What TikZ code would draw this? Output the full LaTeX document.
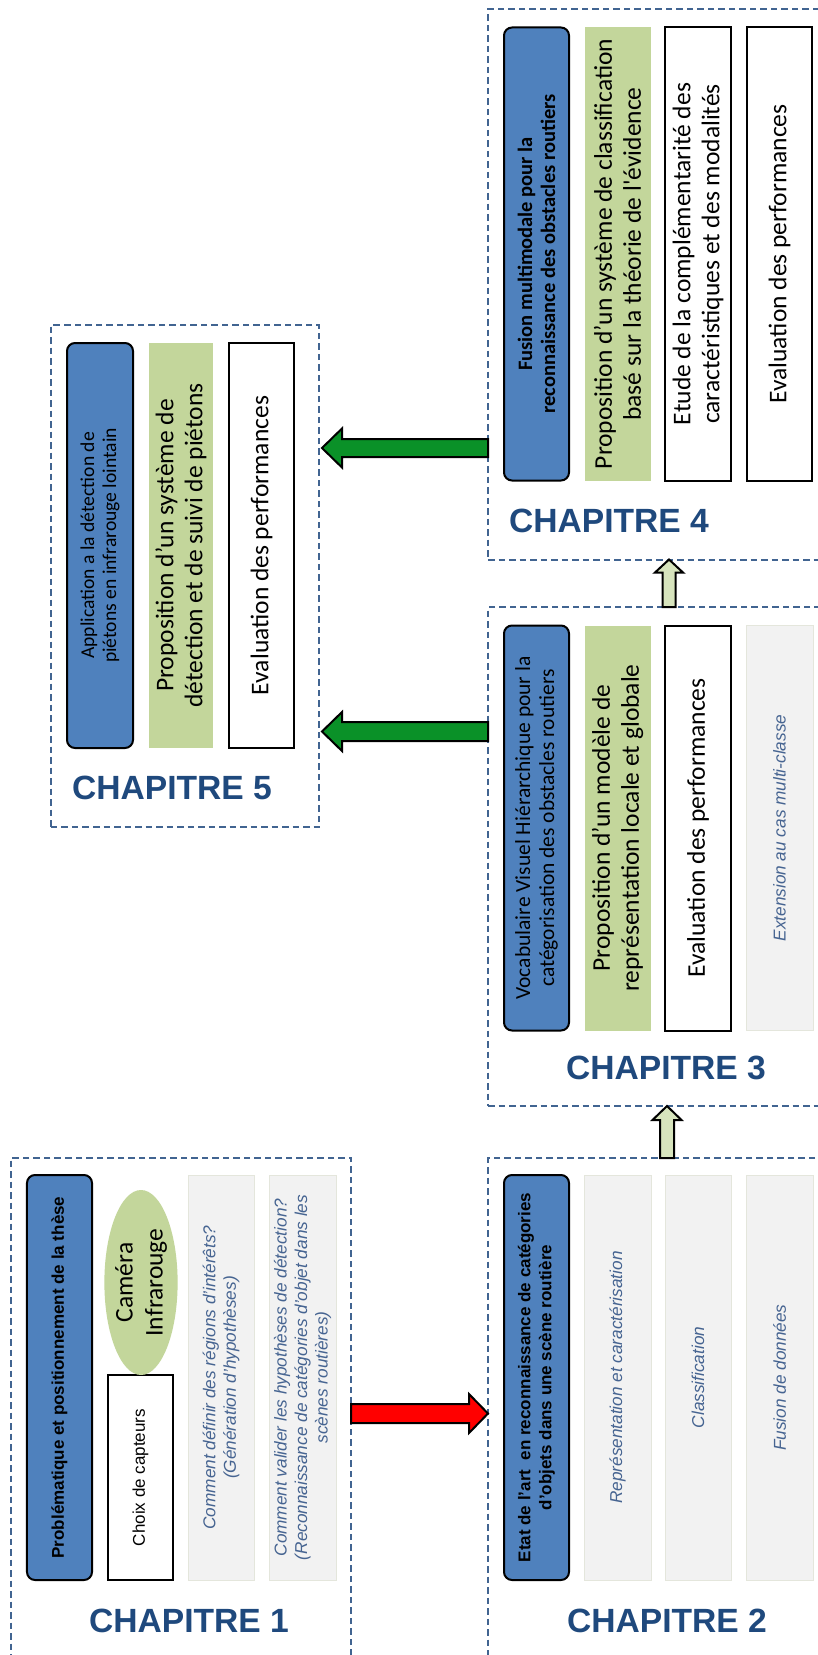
\documentclass[tikz,border=0pt]{standalone}
\usepackage{fontspec}
\setmainfont{Liberation Sans}
\newfontfamily\calib{Carlito}
\usetikzlibrary{calc,shapes.geometric}
\definecolor{bluebox}{RGB}{79,129,189}
\definecolor{greenbox}{RGB}{195,214,155}
\definecolor{graybox}{RGB}{242,242,242}
\definecolor{grayedge}{RGB}{228,230,220}
\definecolor{graytext}{RGB}{70,100,145}
\definecolor{chapblue}{RGB}{31,73,125}
\definecolor{framecol}{RGB}{65,100,145}
\definecolor{arrred}{RGB}{255,0,0}
\definecolor{arrgreen}{RGB}{10,145,40}
\definecolor{arrlight}{RGB}{215,228,189}
\newcommand\fs[2]{\fontsize{#1bp}{#2bp}\selectfont}
% block arrow: style, start, tip, half shaft, half head, head length
\newcommand\blockarr[6]{%
  \coordinate (HB) at ($(#3)!#6!(#2)$);
  \draw[#1] ($(#2)!#4!90:(#3)$) -- ($(HB)!#4!90:(#3)$) -- ($(HB)!#5!90:(#3)$) -- (#3)
    -- ($(HB)!#5!-90:(#3)$) -- ($(HB)!#4!-90:(#3)$) -- ($(#2)!#4!-90:(#3)$) -- cycle;}
\tikzset{
  frame/.style={draw=framecol, line width=2bp, dash pattern=on 6.5bp off 4bp, inner sep=0, outer sep=0},
  bx/.style={rotate=90, inner sep=0, outer sep=0, align=center},
  bluebx/.style={bx, draw=black, line width=2bp, fill=bluebox, rounded corners=8bp},
  greenbx/.style={bx, fill=greenbox, font=\calib\fs{25.5}{29}},
  whitebx/.style={bx, draw=black, line width=2bp, fill=white, font=\calib\fs{25.5}{29}},
  graybx/.style={bx, draw=grayedge, line width=1bp, fill=graybox, text=graytext, font=\itshape\fs{17.2}{20.5}},
  chap/.style={text=chapblue, font=\bfseries\fs{33.6}{40}, inner sep=0},
  redarr/.style={draw=black, line width=2bp, fill=arrred},
  greenarr/.style={draw=black, line width=2bp, fill=arrgreen},
  lightarr/.style={draw=black, line width=2bp, fill=arrlight},
}
\begin{document}
\begin{tikzpicture}[x=1bp,y=-1bp]
\fill[white] (0,0) rectangle (818,1655);
\useasboundingbox (0,0) rectangle (818,1655);
\begin{scope}
\clip (0,0) rectangle (818,1655);
% frames
\node[frame, minimum width=340bp, minimum height=504bp] (f1) at (181,1410) {};
\node[frame, minimum width=342bp, minimum height=504bp] (f2) at (659,1410) {};
\node[frame, minimum width=342bp, minimum height=499bp] (f3) at (659,856.5) {};
\node[frame, minimum width=342bp, minimum height=550bp] (f4) at (659,284.5) {};
\node[frame, minimum width=268bp, minimum height=502bp] (f5) at (185,576) {};
\end{scope}

% ---------- Chapitre 1
\node[bluebx, minimum width=405bp, minimum height=65bp, font=\bfseries\fs{17}{21}] (b1) at (59.5,1377.5)
  {Problématique et positionnement de la thèse};
\node[bx, draw=black, line width=2bp, fill=white, minimum width=205bp, minimum height=65bp, font=\fs{17}{21}] (cc) at (140.5,1477.5)
  {Choix de capteurs};
\node[bx, ellipse, fill=greenbox, minimum width=185bp, minimum height=72bp, font=\calib\fs{25.5}{30}] (cam) at (141,1282.5)
  {Caméra\\Infrarouge};
\node[graybx, minimum width=405bp, minimum height=66bp] (g11) at (221,1377.5)
  {Comment définir des régions d'intérêts?\\(Génération d'hypothèses)};
\node[graybx, minimum width=405bp, minimum height=67bp] (g12) at (302.5,1377.5)
  {Comment valider les hypothèses de détection?\\(Reconnaissance de catégories d'objet dans les\\scènes routières)};
\node[chap] (c1) at (189,1620.5) {CHAPITRE 1};

% ---------- Chapitre 2
\node[bluebx, minimum width=405bp, minimum height=65bp, font=\bfseries\fs{17}{21}] (b2) at (536.5,1377.5)
  {Etat de l'art\ \ en reconnaissance de catégories\\d'objets dans une scène routière};
\node[graybx, minimum width=405bp, minimum height=67bp] (g21) at (617.5,1377.5) {Représentation et caractérisation};
\node[graybx, minimum width=405bp, minimum height=66bp] (g22) at (698,1377.5) {Classification};
\node[graybx, minimum width=405bp, minimum height=67bp] (g23) at (779.5,1377.5) {Fusion de données};
\node[chap] (c2) at (667,1620.5) {CHAPITRE 2};

% ---------- Chapitre 3
\node[bluebx, minimum width=405bp, minimum height=65bp, font=\calib\fs{21.5}{24}] (b3) at (536.5,828)
  {Vocabulaire Visuel Hiérarchique pour la\\catégorisation des obstacles routiers};
\node[greenbx, minimum width=405bp, minimum height=66bp] (p3) at (617.5,828)
  {Proposition d’un modèle de\\représentation locale et globale};
\node[whitebx, minimum width=405bp, minimum height=66bp] (e3) at (698,828)
  {Evaluation des performances};
\node[graybx, minimum width=405bp, minimum height=67bp] (g31) at (779.5,828) {Extension au cas multi-classe};
\node[chap] (c3) at (666,1068) {CHAPITRE 3};

% ---------- Chapitre 4
\node[bluebx, minimum width=453bp, minimum height=65bp, font=\calib\bfseries\fs{20.5}{23}] (b4) at (536.5,254)
  {Fusion multimodale pour la\\reconnaissance des obstacles routiers};
\node[greenbx, minimum width=453bp, minimum height=66bp] (p4) at (617.5,254)
  {Proposition d’un système de classification\\basé sur la théorie de l'évidence};
\node[whitebx, minimum width=453bp, minimum height=66bp] (s4) at (698,254)
  {Etude de la complémentarité des\\caractéristiques et des modalités};
\node[whitebx, minimum width=453bp, minimum height=65bp] (e4) at (779.5,254)
  {Evaluation des performances};
\node[chap] (c4) at (609,521) {CHAPITRE 4};

% ---------- Chapitre 5
\node[bluebx, minimum width=405bp, minimum height=66bp, font=\calib\fs{19.6}{22}] (b5) at (100,545.5)
  {Application a la détection de\\piétons en infrarouge lointain};
\node[greenbx, minimum width=405bp, minimum height=64bp] (p5) at (181,545.5)
  {Proposition d’un système de\\détection et de suivi de piétons};
\node[whitebx, minimum width=405bp, minimum height=65bp] (e5) at (261.5,545.5)
  {Evaluation des performances};
\node[chap] (c5) at (172,788) {CHAPITRE 5};

% ---------- arrows
\coordinate (yr) at (0,1413.5);
\coordinate (ra) at (f1.east |- yr);
\coordinate (rb) at (f2.west |- yr);
\blockarr{redarr}{ra}{rb}{9.5bp}{19.5bp}{19bp}

\coordinate (yg1) at (0,448);
\coordinate (x5) at (322,0);
\coordinate (ga) at (f4.west |- yg1);
\coordinate (gb) at (x5 |- yg1);
\blockarr{greenarr}{ga}{gb}{9bp}{19.5bp}{20bp}

\coordinate (yg2) at (0,731.5);
\coordinate (gc) at (f3.west |- yg2);
\coordinate (gd) at (x5 |- yg2);
\blockarr{greenarr}{gc}{gd}{9.5bp}{19.5bp}{20bp}

\coordinate (xu1) at (667,0);
\coordinate (ua) at (xu1 |- f2.north);
\coordinate (ub) at (xu1 |- f3.south);
\blockarr{lightarr}{ua}{ub}{7bp}{14.5bp}{14bp}

\coordinate (xu2) at (669,0);
\coordinate (uc) at (xu2 |- f3.north);
\coordinate (ud) at (xu2 |- f4.south);
\blockarr{lightarr}{uc}{ud}{6.5bp}{14bp}{13bp}
\end{tikzpicture}
\end{document}
